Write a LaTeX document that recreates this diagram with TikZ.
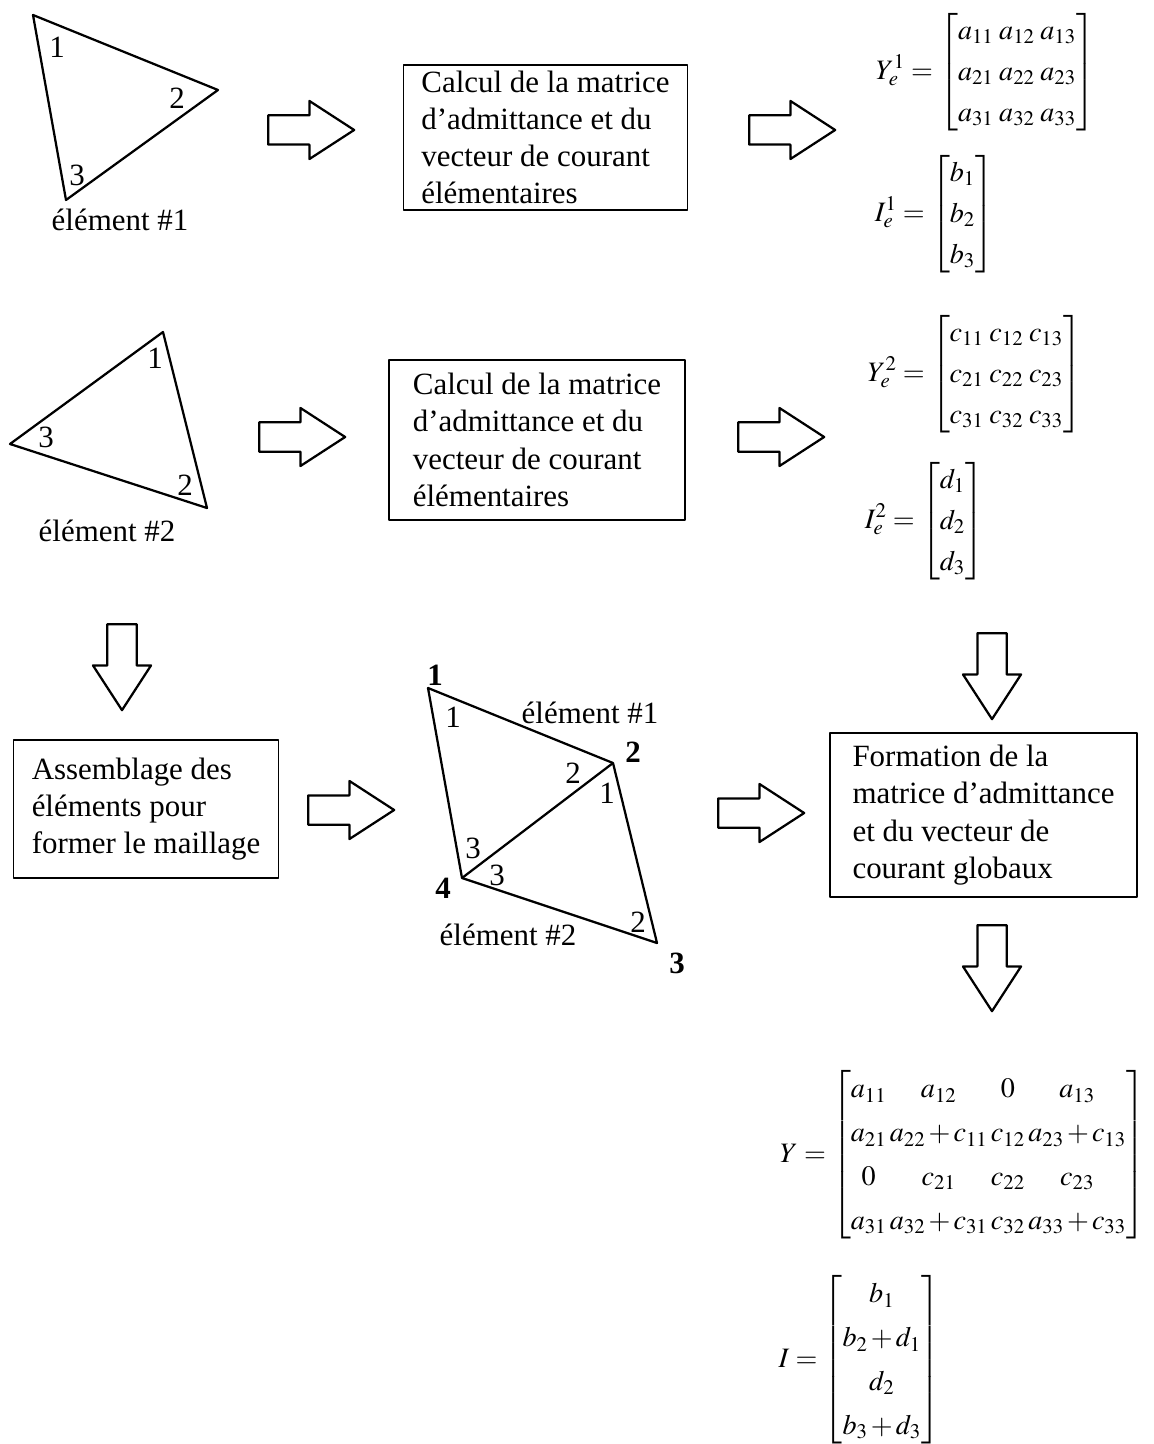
\documentclass[tikz,border=0pt]{standalone}
\usepackage{amsmath}
\usepackage{mathptmx}
\usepackage{fontspec}
\setmainfont{Liberation Serif}
\usetikzlibrary{shapes.arrows}

\tikzset{
  txt/.style={font=\fontsize{22}{26.5}\selectfont, inner sep=0pt},
  corner/.style={txt},
  vnum/.style={txt, font=\fontsize{22}{26.5}\selectfont\bfseries},
  txtbox/.style={draw, line width=1.2pt, align=left, inner ysep=4pt,
    font=\fontsize{22}{26.5}\selectfont},
  harrow/.style={draw, line width=1.6pt, single arrow, inner xsep=0pt,
    inner ysep=0.3375cm, minimum height=2.15cm,
    single arrow head extend=0.36cm, single arrow tip angle=66},
  mat/.style={inner sep=0pt, font=\fontsize{20}{24}\selectfont},
}

\begin{document}
\begin{tikzpicture}[x=0.025cm,y=-0.025cm, line join=round]
  \path[use as bounding box] (0,0) rectangle (1154,1444);

  % element 1
  \coordinate (t1a) at (33,15);
  \coordinate (t1b) at (218,90);
  \coordinate (t1c) at (66,200);
  \draw[line width=1.6pt] (t1a) -- (t1b) -- (t1c) -- cycle;
  \node[corner] (t1n1) at (57,47) {1};
  \node[corner] (t1n2) at (177,98) {2};
  \node[corner] (t1n3) at (77,175) {3};
  \node[txt] (t1lab) at (120,220) {élément \#1};

  % element 2
  \coordinate (t2a) at (163,332);
  \coordinate (t2b) at (207,508);
  \coordinate (t2c) at (10,444);
  \draw[line width=1.6pt] (t2a) -- (t2b) -- (t2c) -- cycle;
  \node[corner] (t2n1) at (155,358) {1};
  \node[corner] (t2n2) at (185,485) {2};
  \node[corner] (t2n3) at (46,437) {3};
  \node[txt] (t2lab) at (107,531) {élément \#2};

  % calcul boxes
  \node[txtbox, inner xsep=0.45cm, minimum height=3.625cm]
    (calc1) at (545.5,137.5) {Calcul de la matrice\\d'admittance et du\\vecteur de courant\\élémentaires};
  \node[txtbox, inner xsep=0.6cm, minimum height=4cm]
    (calc2) at (537,440) {Calcul de la matrice\\d'admittance et du\\vecteur de courant\\élémentaires};

  % elementary matrices
  \node[mat, anchor=east] (Ye1) at (1095,72) {$\renewcommand\arraystretch{1.22}\setlength\arraycolsep{2pt}
    Y_e^1 = \begin{bmatrix} a_{11} & a_{12} & a_{13}\\ a_{21} & a_{22} & a_{23}\\ a_{31} & a_{32} & a_{33} \end{bmatrix}$};
  \node[mat, anchor=east] (Ie1) at (994,214) {$\renewcommand\arraystretch{1.22}\setlength\arraycolsep{2pt}
    I_e^1 = \begin{bmatrix} b_1\\ b_2\\ b_3 \end{bmatrix}$};
  \node[mat, anchor=east] (Ye2) at (1082,374) {$\renewcommand\arraystretch{1.22}\setlength\arraycolsep{2pt}
    Y_e^2 = \begin{bmatrix} c_{11} & c_{12} & c_{13}\\ c_{21} & c_{22} & c_{23}\\ c_{31} & c_{32} & c_{33} \end{bmatrix}$};
  \node[mat, anchor=east] (Ie2) at (984,521) {$\renewcommand\arraystretch{1.22}\setlength\arraycolsep{2pt}
    I_e^2 = \begin{bmatrix} d_1\\ d_2\\ d_3 \end{bmatrix}$};

  % block arrows
  \node[harrow, anchor=tail] (ar1) at (267,130) {};
  \node[harrow, anchor=tail] (ar2) at (748,130) {};
  \node[harrow, anchor=tail] (ar3) at (258,437) {};
  \node[harrow, anchor=tail] (ar4) at (737,437) {};
  \node[harrow, anchor=tail, rotate=-90] (ar5) at (122,623) {};
  \node[harrow, anchor=tail] (ar6) at (307,810) {};
  \node[harrow, anchor=tail] (ar7) at (717,813) {};
  \node[harrow, anchor=tail, rotate=-90] (ar8) at (992,632) {};
  \node[harrow, anchor=tail, rotate=-90] (ar9) at (992,924) {};

  % assembly
  \node[txtbox, inner xsep=0.46cm, minimum height=3.45cm]
    (assem) at (146,809) {Assemblage des\\éléments pour\\former le maillage};

  % mesh
  \coordinate (m1) at (428,688);
  \coordinate (m2) at (613,763);
  \coordinate (m3) at (657,943);
  \coordinate (m4) at (462,878);
  \draw[line width=1.6pt] (m1) -- (m2) -- (m3) -- (m4) -- cycle;
  \draw[line width=1.6pt] (m2) -- (m4);
  \node[vnum] (g1) at (435,675) {1};
  \node[vnum] (g2) at (633,752) {2};
  \node[vnum] (g3) at (677,963) {3};
  \node[vnum] (g4) at (443,888) {4};
  \node[corner] (e1n1) at (453,717) {1};
  \node[corner] (e1n2) at (573,773) {2};
  \node[corner] (e1n3) at (473,848) {3};
  \node[corner] (e2n1) at (607,793) {1};
  \node[corner] (e2n3) at (497,875) {3};
  \node[corner] (e2n2) at (638,922) {2};
  \node[txt] (m1lab) at (590,713) {élément \#1};
  \node[txt] (m2lab) at (508,935) {élément \#2};

  % global system
  \node[txtbox, inner xsep=0.56cm, minimum height=4.1cm]
    (form) at (983.5,815) {Formation de la\\matrice d'admittance\\et du vecteur de\\courant globaux};
  \node[mat, anchor=east] (Yg) at (1145,1155) {$\renewcommand\arraystretch{1.3}\setlength\arraycolsep{1.2pt}\medmuskip=2mu
    Y = \begin{bmatrix} a_{11} & a_{12} & 0 & a_{13}\\ a_{21} & a_{22}+c_{11} & c_{12} & a_{23}+c_{13}\\
      0 & c_{21} & c_{22} & c_{23}\\ a_{31} & a_{32}+c_{31} & c_{32} & a_{33}+c_{33} \end{bmatrix}$};
  \node[mat, anchor=east] (Ig) at (940,1360) {$\renewcommand\arraystretch{1.3}\setlength\arraycolsep{1.2pt}\medmuskip=2mu
    I = \begin{bmatrix} b_1\\ b_2+d_1\\ d_2\\ b_3+d_3 \end{bmatrix}$};
\end{tikzpicture}
\end{document}
